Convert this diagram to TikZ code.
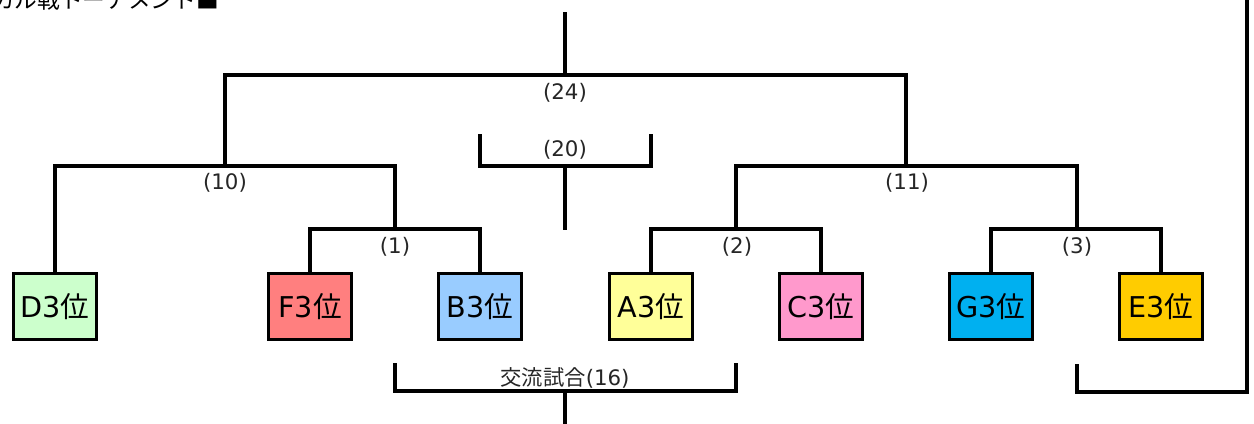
\documentclass[tikz,border=0pt]{standalone}
\usepackage{fontspec}
\setmainfont{Noto Sans CJK JP}
\newfontfamily\lat{DejaVu Sans}
\definecolor{cD}{HTML}{CCFFCC}
\definecolor{cF}{HTML}{FF7F7F}
\definecolor{cB}{HTML}{99CCFF}
\definecolor{cA}{HTML}{FFFF99}
\definecolor{cC}{HTML}{FF99CC}
\definecolor{cG}{HTML}{00B0F0}
\definecolor{cE}{HTML}{FFCC00}
\begin{document}
\begin{tikzpicture}[x=0.75pt,y=-0.75pt,
  team/.style={draw=black,line width=2.4pt,minimum width=62pt,minimum height=49.5pt,inner sep=0pt,font=\fontsize{21.5}{24}\selectfont},
  wire/.style={line width=2.4pt,line cap=rect},
  lbl/.style={inner sep=0pt,font=\fontsize{16}{18}\selectfont,text=black!85}]
\useasboundingbox (0,0) rectangle (1254,424);
% title (clipped at the top left)
\node[anchor=base east,inner sep=0pt,font=\fontsize{17}{19}\selectfont] (title) at (219,8.5) {カル戦トーナメント■};
% teams
\node[team,fill=cD] (D3) at (55,306.5) {{\lat D3}位};
\node[team,fill=cF] (F3) at (310,306.5) {{\lat F3}位};
\node[team,fill=cB] (B3) at (480,306.5) {{\lat B3}位};
\node[team,fill=cA] (A3) at (651,306.5) {{\lat A3}位};
\node[team,fill=cC] (C3) at (821,306.5) {{\lat C3}位};
\node[team,fill=cG] (G3) at (991,306.5) {{\lat G3}位};
\node[team,fill=cE] (E3) at (1161,306.5) {{\lat E3}位};
% junction coordinates
\coordinate (m1) at (395,229);
\coordinate (m2) at (736,229);
\coordinate (m3) at (1077,229);
\coordinate (m10) at (225,166);
\coordinate (m11) at (906,166);
\coordinate (m24) at (565,75);
\coordinate (top) at (565,14);
\coordinate (t20l) at (480,136);
\coordinate (t20r) at (651,136);
\coordinate (m20) at (565,166);
\coordinate (d20) at (565,228);
\coordinate (t16l) at (395,365);
\coordinate (t16r) at (736,365);
\coordinate (m16) at (565,391);
\coordinate (d16) at (565,424);
\coordinate (tEl) at (1077,366);
\coordinate (tEr) at (1247,392);
\coordinate (tEt) at (1247,0);
% brackets
\draw[wire] (F3.north) |- (m1) -| (B3.north);
\draw[wire] (A3.north) |- (m2) -| (C3.north);
\draw[wire] (G3.north) |- (m3) -| (E3.north);
\draw[wire] (D3.north) |- (m10) -| (m1);
\draw[wire] (m2) |- (m11) -| (m3);
\draw[wire] (m10) |- (m24) -| (m11);
\draw[wire] (m24) -- (top);
\draw[wire] (t20l) |- (m20) -| (t20r);
\draw[wire] (m20) -- (d20);
\draw[wire] (t16l) |- (m16) -| (t16r);
\draw[wire] (m16) -- (d16);
\draw[wire] (tEl) |- (tEr) -- (tEt);
% labels
\node[lbl] (l24) at (565,93) {\lat (24)};
\node[lbl] (l20) at (565,150) {\lat (20)};
\node[lbl] (l10) at (225,183) {\lat (10)};
\node[lbl] (l11) at (907,183) {\lat (11)};
\node[lbl] (l1) at (395,247) {\lat (1)};
\node[lbl] (l2) at (737,247) {\lat (2)};
\node[lbl] (l3) at (1077,247) {\lat (3)};
\node[lbl] (l16) at (565,378) {交流試合{\lat (16)}};
\end{tikzpicture}
\end{document}
